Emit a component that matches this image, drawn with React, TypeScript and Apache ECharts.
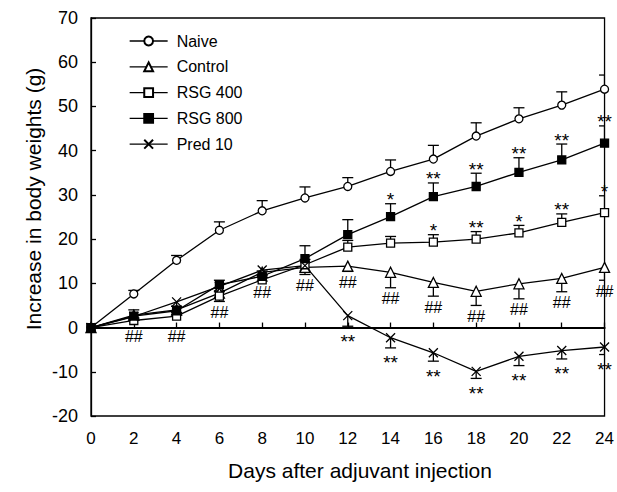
import React, { useEffect, useRef } from "react";
import * as echarts from "echarts";

const FONT = '"Liberation Sans", Arial, Helvetica, sans-serif';

const days = [0, 2, 4, 6, 8, 10, 12, 14, 16, 18, 20, 22, 24];

const naive = [0, 7.6, 15.2, 22.0, 26.4, 29.3, 31.9, 35.3, 38.1, 43.3, 47.2, 50.3, 53.9];
const naiveErr = [0, 0.8, 1.1, 1.9, 2.3, 2.5, 2.0, 2.6, 3.1, 3.0, 2.5, 3.0, 3.2];

const control = [0, 2.8, 4.0, 7.8, 12.5, 13.6, 13.9, 12.5, 10.2, 8.2, 9.9, 11.1, 13.6];
const controlErr = [0, 0.8, 1.2, 1.9, 2.0, 1.6, 1.2, 3.5, 3.1, 3.2, 3.4, 3.0, 2.9];

const rsg400 = [0, 1.6, 2.6, 7.1, 10.8, 14.2, 18.2, 19.1, 19.3, 20.0, 21.4, 23.8, 26.0];
const rsg400Err = [0, 0.6, 0.8, 1.0, 1.0, 1.2, 1.5, 1.5, 1.7, 1.7, 1.7, 1.9, 3.8];

const rsg800 = [0, 2.6, 3.8, 9.7, 11.6, 15.6, 21.0, 25.1, 29.6, 31.9, 35.1, 37.9, 41.7];
const rsg800Err = [0, 1.4, 1.0, 1.0, 1.2, 2.9, 3.4, 2.9, 3.1, 3.0, 3.3, 3.6, 3.9];

const pred10 = [0, 2.5, 5.8, 9.3, 13.0, 14.0, 2.7, -2.3, -5.7, -9.9, -6.5, -5.2, -4.4];
const pred10Err = [0, 0.8, 1.0, 1.0, 1.0, 1.2, 2.4, 2.3, 1.9, 1.6, 2.1, 1.9, 1.7];

const controlSig = ["", "##", "##", "##", "##", "##", "##", "##", "##", "##", "##", "##", "##"];
const pred10Sig = ["", "", "", "", "", "", "**", "**", "**", "**", "**", "**", "**"];
const rsg800Sig = ["", "", "", "", "", "", "", "*", "**", "**", "**", "**", "**"];
const rsg400Sig = ["", "", "", "", "", "", "", "", "*", "**", "*", "**", "*"];

const yTicks = { min: -20, max: 70, interval: 10 };
const xTicks = { min: 0, max: 24, interval: 2 };

type Grp = {
  name: string;
  values: number[];
  err: number[];
  dir: number;
  symbol: string;
  size: number;
  fill: string;
};

const groups: Grp[] = [
  { name: "Naive", values: naive, err: naiveErr, dir: 1, symbol: "circle", size: 8, fill: "#fff" },
  { name: "Control", values: control, err: controlErr, dir: -1, symbol: "triangle", size: 10, fill: "#fff" },
  { name: "RSG 400", values: rsg400, err: rsg400Err, dir: 1, symbol: "rect", size: 8, fill: "#fff" },
  { name: "RSG 800", values: rsg800, err: rsg800Err, dir: 1, symbol: "rect", size: 8, fill: "#000" },
  { name: "Pred 10", values: pred10, err: pred10Err, dir: -1, symbol: "path://M0,0L10,10M10,0L0,10", size: 9, fill: "none" },
];

export default function App() {
  const ref = useRef<HTMLDivElement>(null);

  useEffect(() => {
    if (!ref.current) return;
    const chart = echarts.init(ref.current, undefined, { renderer: "svg" });

    const errData: number[][] = [];
    groups.forEach((g) => {
      for (let i = 1; i < days.length; i++) {
        if (g.err[i] > 0) errData.push([days[i], g.values[i], g.values[i] + g.dir * g.err[i]]);
      }
    });

    type Ann = { day: number; anchor: number; text: string; below: boolean };
    const anns: Ann[] = [];
    const addAnn = (sig: string[], vals: number[], err: number[], dir: number) => {
      for (let i = 0; i < days.length; i++) {
        if (sig[i]) anns.push({ day: days[i], anchor: vals[i] + dir * err[i], text: sig[i], below: dir < 0 });
      }
    };
    addAnn(controlSig, control, controlErr, -1);
    addAnn(pred10Sig, pred10, pred10Err, -1);
    addAnn(rsg800Sig, rsg800, rsg800Err, 1);
    addAnn(rsg400Sig, rsg400, rsg400Err, 1);

    const lineSeries = groups.map((g) => ({
      name: g.name,
      type: "line",
      data: days.map((d, i) => [d, g.values[i]]),
      symbol: g.symbol,
      symbolSize: g.size,
      showAllSymbol: true,
      clip: false,
      z: 3,
      lineStyle: { color: "#000", width: 1.3 },
      itemStyle: { color: g.fill, borderColor: "#000", borderWidth: 1.3 },
      emphasis: { disabled: true },
    }));

    const option: any = {
      animation: false,
      backgroundColor: "#fff",
      grid: {
        left: 91,
        top: 18,
        width: 516,
        height: 398,
        show: true,
        borderColor: "#000",
        borderWidth: 1.3,
        backgroundColor: "transparent",
      },
      legend: {
        data: groups.map((g) => g.name),
        orient: "vertical",
        left: 124,
        top: 28,
        itemWidth: 38,
        itemHeight: 11,
        itemGap: 9.8,
        textStyle: { fontFamily: FONT, fontSize: 16, color: "#000", lineHeight: 16, padding: [0, 0, 0, 4] },
        lineStyle: { color: "#000", width: 1.3 },
      },
      xAxis: [
        {
          type: "value",
          ...xTicks,
          position: "bottom",
          axisLine: { show: false, onZero: false },
          axisTick: { show: false },
          splitLine: { show: false },
          axisLabel: { fontFamily: FONT, fontSize: 17, color: "#000", margin: 14 },
        },
        {
          type: "value",
          ...xTicks,
          position: "bottom",
          axisLine: { show: true, onZero: true, lineStyle: { color: "#000", width: 2.2 } },
          axisTick: { show: true, inside: true, length: 5, lineStyle: { color: "#000", width: 1.3 } },
          splitLine: { show: false },
          axisLabel: { show: false },
        },
      ],
      yAxis: {
        type: "value",
        ...yTicks,
        axisLine: { show: true, onZero: false, lineStyle: { color: "#000", width: 1.3 } },
        axisTick: { show: true, inside: true, length: 5, lineStyle: { color: "#000", width: 1.3 } },
        splitLine: { show: false },
        axisLabel: { fontFamily: FONT, fontSize: 18, color: "#000", margin: 13 },
      },
      graphic: [
        {
          type: "text",
          x: 33,
          y: 199,
          rotation: Math.PI / 2,
          style: {
            text: "Increase in body weights (g)",
            fontFamily: FONT,
            fontSize: 21,
            fill: "#000",
            align: "center",
            verticalAlign: "middle",
          },
        },
        {
          type: "text",
          x: 360,
          y: 470,
          style: {
            text: "Days after adjuvant injection",
            fontFamily: FONT,
            fontSize: 21,
            fill: "#000",
            align: "center",
            verticalAlign: "middle",
          },
        },
      ],
      series: [
        {
          type: "custom",
          name: "errorbars",
          data: errData,
          clip: true,
          z: 2,
          silent: true,
          encode: { x: 0, y: [1, 2] },
          renderItem: (params: any, api: any) => {
            const x = api.value(0);
            const v = api.value(1);
            const e = api.value(2);
            const p0 = api.coord([x, v]);
            const p1 = api.coord([x, e]);
            const hw = 5.5;
            return {
              type: "group",
              children: [
                { type: "line", shape: { x1: p0[0], y1: p0[1], x2: p1[0], y2: p1[1] }, style: { stroke: "#000", lineWidth: 1.3 } },
                { type: "line", shape: { x1: p1[0] - hw, y1: p1[1], x2: p1[0] + hw, y2: p1[1] }, style: { stroke: "#000", lineWidth: 1.3 } },
              ],
            };
          },
        },
        ...lineSeries,
        {
          type: "custom",
          name: "significance",
          data: anns.map((a) => [a.day, a.anchor]),
          z: 4,
          silent: true,
          renderItem: (params: any, api: any) => {
            const a = anns[params.dataIndex];
            const p = api.coord([a.day, a.anchor]);
            const isHash = a.text.indexOf("#") >= 0;
            let y = p[1] + (a.below ? (isHash ? 11 : 15) : -4);
            if (isHash) {
              const z = api.coord([a.day, 0])[1];
              if (Math.abs(y - z) < 7) y = z + 9;
            }
            return {
              type: "text",
              x: p[0],
              y,
              style: {
                text: a.text,
                fontFamily: FONT,
                fontSize: isHash ? 16 : 19,
                fill: "#000",
                align: "center",
                verticalAlign: "middle",
              },
            };
          },
        },
      ],
    };

    chart.setOption(option);
    return () => chart.dispose();
  }, []);

  return (
    <div
      ref={ref}
      style={{ position: "fixed", left: 0, top: 0, width: 617, height: 492, background: "#fff" }}
    />
  );
}
